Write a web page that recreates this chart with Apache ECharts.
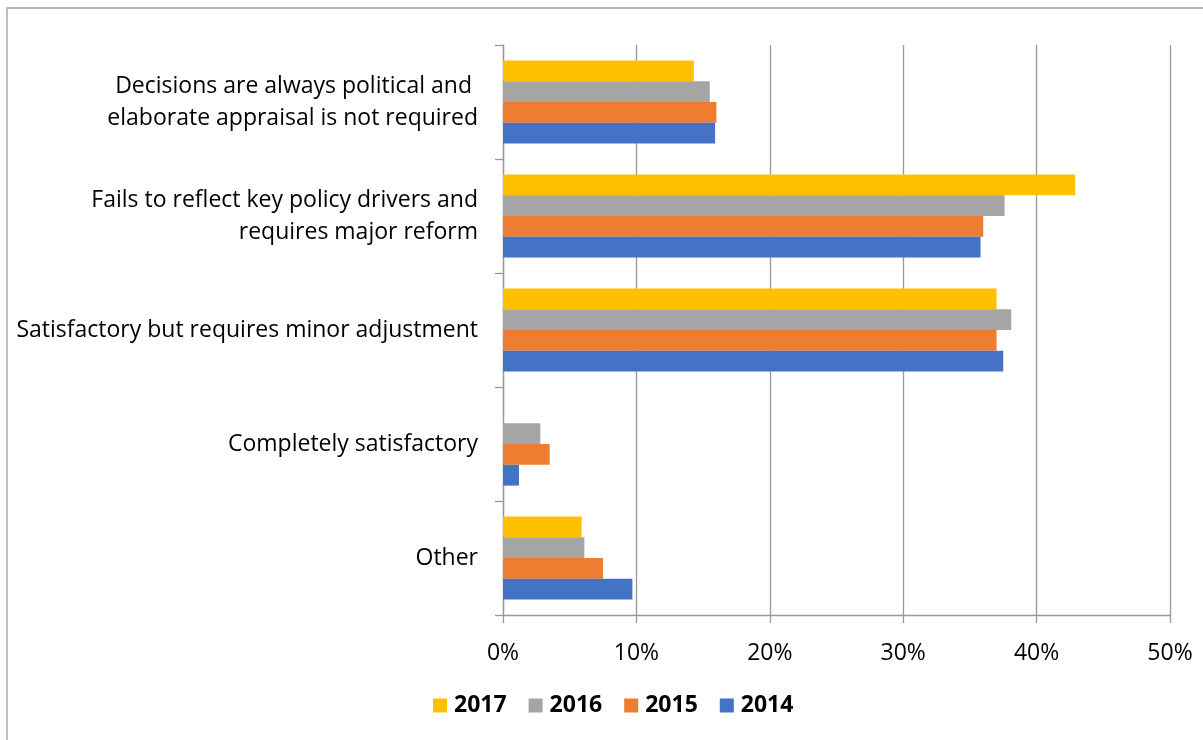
<!DOCTYPE html>
<html>
<head>
<meta charset="utf-8">
<script src="https://cdn.jsdelivr.net/npm/echarts@6/dist/echarts.min.js"></script>
<style>
html,body{margin:0;padding:0;background:#fff;}
#chart{width:1203px;height:740px;}
</style>
</head>
<body>
<div id="chart"></div>
<script>
// Categories in reading order (top to bottom)
var categories = [
  "Decisions are always political and \nelaborate appraisal is not required",
  "Fails to reflect key policy drivers and\nrequires major reform",
  "Satisfactory but requires minor adjustment",
  "Completely satisfactory",
  "Other"
];
var years = ["2017", "2016", "2015", "2014"];
var v2017 = [14.3, 42.9, 37.0, 0, 5.9];
var v2016 = [15.5, 37.6, 38.1, 2.8, 6.1];
var v2015 = [16.0, 36.0, 37.0, 3.5, 7.5];
var v2014 = [15.9, 35.8, 37.5, 1.2, 9.7];
var xTicks = [0, 10, 20, 30, 40, 50];

var colors = {"2017": "#FFC000", "2016": "#A5A5A5", "2015": "#ED7D31", "2014": "#4472C4"};
var seriesValues = {"2017": v2017, "2016": v2016, "2015": v2015, "2014": v2014};

var font = "Open Sans";
var chart = echarts.init(document.getElementById('chart'));

var series = years.map(function (y) {
  return {
    name: y,
    type: 'bar',
    data: seriesValues[y],
    itemStyle: {color: colors[y]},
    barGap: '0%',
    barCategoryGap: '27%'
  };
});

chart.setOption({
  animation: false,
  backgroundColor: '#fff',
  textStyle: {fontFamily: font},
  graphic: [{
    type: 'rect',
    shape: {x: 7, y: 8, width: 1400, height: 900},
    style: {fill: 'none', stroke: '#a0a0a0', lineWidth: 1.3},
    silent: true
  }],
  grid: {left: 503, right: 33, top: 45, bottom: 125, containLabel: false},
  legend: {
    data: years,
    left: 428,
    top: 689,
    itemWidth: 14,
    itemHeight: 14,
    itemGap: 22,
    icon: 'rect',
    textStyle: {fontFamily: font, fontSize: 23, fontWeight: 'bold', color: '#000', padding: [0, 0, 0, 2]}
  },
  xAxis: {
    type: 'value',
    min: xTicks[0],
    max: xTicks[xTicks.length - 1],
    interval: 10,
    axisLine: {show: true, lineStyle: {color: '#999', width: 1.3}},
    axisTick: {show: true, length: 8, lineStyle: {color: '#999', width: 1.3}},
    splitLine: {show: true, lineStyle: {color: '#999', width: 1.3}},
    axisLabel: {
      formatter: function (v) { return v + '%'; },
      fontFamily: font, fontSize: 23, color: '#000', margin: 27
    }
  },
  yAxis: {
    type: 'category',
    inverse: true,
    data: categories,
    axisLine: {show: true, lineStyle: {color: '#999', width: 1.3}},
    axisTick: {show: true, length: 8, lineStyle: {color: '#999', width: 1.3}},
    axisLabel: {
      fontFamily: font, fontSize: 23, color: '#000', margin: 25, lineHeight: 32, align: 'right'
    }
  },
  series: series
});
</script>
</body>
</html>
